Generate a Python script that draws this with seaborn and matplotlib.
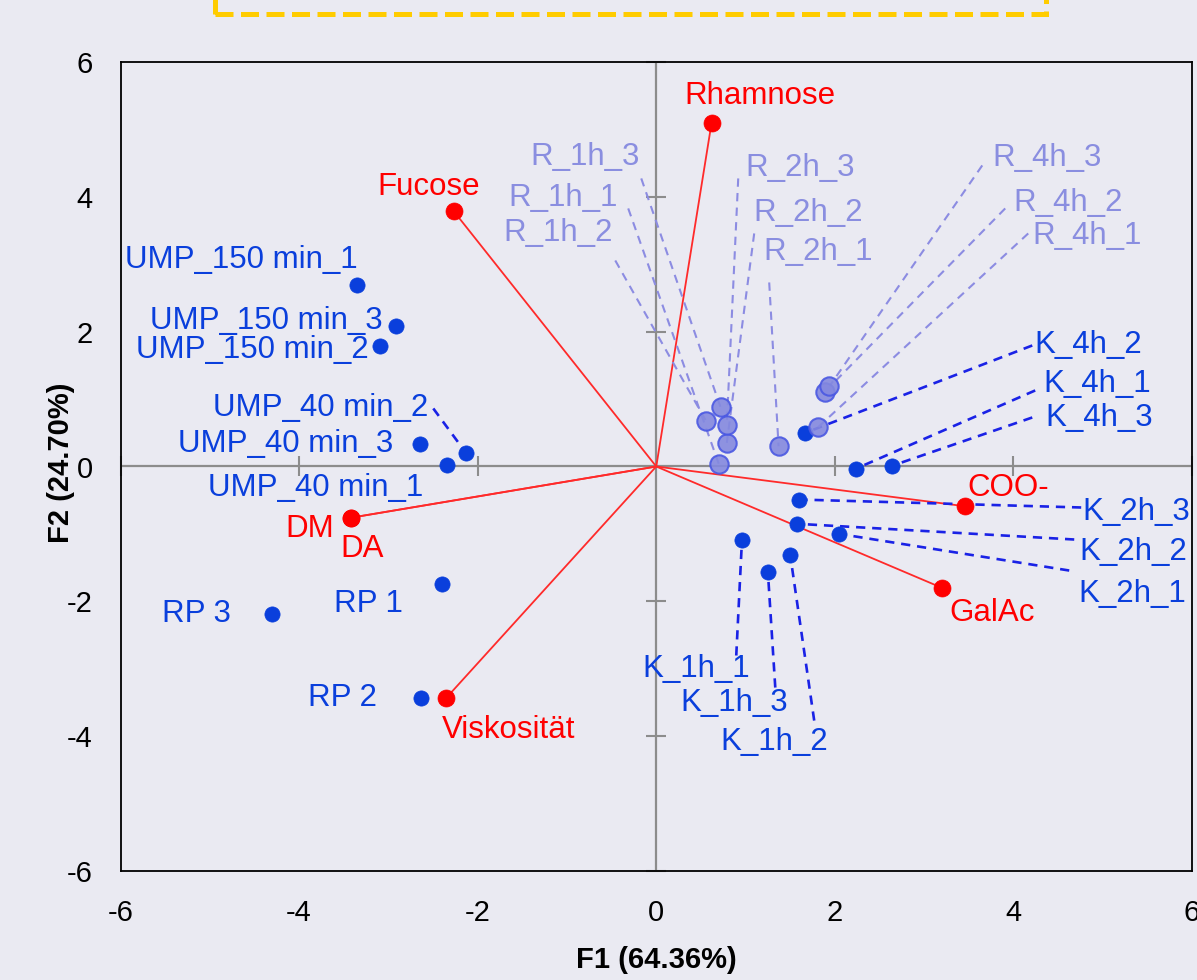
import matplotlib
matplotlib.use("Agg")
import matplotlib.pyplot as plt
import seaborn as sns
import pandas as pd
import numpy as np
from matplotlib.patches import Rectangle

# ---------------- data ----------------
obs_names = ["UMP_150 min_1", "UMP_150 min_2", "UMP_150 min_3",
             "UMP_40 min_1", "UMP_40 min_2", "UMP_40 min_3",
             "RP 1", "RP 2", "RP 3",
             "K_1h_1", "K_1h_2", "K_1h_3",
             "K_2h_1", "K_2h_2", "K_2h_3",
             "K_4h_1", "K_4h_2", "K_4h_3",
             "R_1h_1", "R_1h_2", "R_1h_3",
             "R_2h_1", "R_2h_2", "R_2h_3",
             "R_4h_1", "R_4h_2", "R_4h_3"]
obs_f1 = [-3.35, -3.09, -2.92,
          -2.34, -2.13, -2.65,
          -2.40, -2.64, -4.30,
          0.96, 1.50, 1.25,
          2.05, 1.58, 1.60,
          2.24, 1.67, 2.64,
          0.70, 0.56, 0.72,
          1.37, 0.79, 0.79,
          1.81, 1.89, 1.94]
obs_f2 = [2.69, 1.79, 2.08,
          0.02, 0.20, 0.34,
          -1.75, -3.43, -2.19,
          -1.09, -1.31, -1.56,
          -1.00, -0.85, -0.49,
          -0.03, 0.50, 0.01,
          0.04, 0.67, 0.88,
          0.30, 0.35, 0.62,
          0.58, 1.11, 1.19]

var_names = ["Rhamnose", "Fucose", "DM", "DA", "Viskosität", "COO-", "GalAc"]
var_f1 = [0.62, -2.27, -3.42, -3.42, -2.35, 3.46, 3.20]
var_f2 = [5.10, 3.79, -0.76, -0.76, -3.43, -0.59, -1.80]

x_label = "F1 (64.36%)"
y_label = "F2 (24.70%)"
ticks = [-6, -4, -2, 0, 2, 4, 6]

# ---------------- layout (label placement) ----------------
# name: (x, y, ha, leader_start or None)
obs_label_layout = {
    "UMP_150 min_1": (-3.348, 3.056, "right", None),
    "UMP_150 min_3": (-3.068, 2.151, "right", None),
    "UMP_150 min_2": (-3.225, 1.721, "right", None),
    "UMP_40 min_2": (-2.553, 0.875, "right", (-2.497, 0.861)),
    "UMP_40 min_3": (-2.945, 0.341, "right", None),
    "UMP_40 min_1": (-2.609, -0.312, "right", None),
    "RP 3": (-4.759, -2.181, "right", None),
    "RP 1": (-2.833, -2.033, "right", None),
    "RP 2": (-3.124, -3.427, "right", None),
    "R_1h_3": (-0.19, 4.585, "right", (-0.168, 4.273)),
    "R_1h_1": (-0.426, 3.976, "right", (-0.314, 3.828)),
    "R_1h_2": (-0.482, 3.457, "right", (-0.459, 3.056)),
    "R_2h_3": (0.997, 4.421, "left", (0.918, 4.273)),
    "R_2h_2": (1.086, 3.754, "left", (1.097, 3.457)),
    "R_2h_1": (1.198, 3.175, "left", (1.265, 2.730)),
    "R_4h_3": (3.763, 4.570, "left", (3.651, 4.466)),
    "R_4h_2": (3.998, 3.902, "left", (3.908, 3.828)),
    "R_4h_1": (4.211, 3.412, "left", (4.166, 3.457)),
    "K_4h_2": (4.233, 1.795, "left", (4.211, 1.795)),
    "K_4h_1": (4.334, 1.217, "left", (4.244, 1.128)),
    "K_4h_3": (4.356, 0.712, "left", (4.211, 0.727)),
    "K_2h_3": (4.770, -0.682, "left", (4.759, -0.608)),
    "K_2h_2": (4.737, -1.261, "left", (4.681, -1.083)),
    "K_2h_1": (4.726, -1.884, "left", (4.625, -1.543)),
    "K_1h_1": (-0.157, -2.997, "left", (0.896, -2.804)),
    "K_1h_3": (0.269, -3.501, "left", (1.333, -3.279)),
    "K_1h_2": (0.717, -4.080, "left", (1.769, -3.769)),
}
var_label_layout = {
    "Rhamnose": (1.159, 5.49, "center"),
    "Fucose": (-2.553, 4.14, "center"),
    "DM": (-3.606, -0.92, "right"),
    "DA": (-3.539, -1.217, "left"),
    "Viskosität": (-2.396, -3.902, "left"),
    "COO-": (3.483, -0.312, "left"),
    "GalAc": (3.281, -2.166, "left"),
}

BG = "#eaeaf2"
BLUE = "#0a3fdc"
BLUE_LINE = "#1a22e6"
R_FACE = "#8489df"
R_EDGE = "#4a58e2"
R_TEXT = "#8a8ee0"
RED = "#ff0000"
GRAY = "#8c8c8c"

sns.set_theme(style="dark", rc={"axes.facecolor": BG, "figure.facecolor": BG})
plt.rcParams["font.family"] = ["Liberation Sans", "DejaVu Sans"]
plt.rcParams["axes.unicode_minus"] = False

fig = plt.figure(figsize=(11.97, 9.8), dpi=100)
ax = fig.add_axes([120.5 / 1197, 1 - 871 / 980, (1192 - 120.5) / 1197, (871 - 62) / 980])

df_obs = pd.DataFrame({"name": obs_names, "F1": obs_f1, "F2": obs_f2})
df_obs["group"] = np.where(df_obs["name"].str.startswith("R_"), "R", "B")
df_var = pd.DataFrame({"name": var_names, "F1": var_f1, "F2": var_f2})

# zero axes with small cross ticks
ax.axhline(0, color=GRAY, lw=1.6, zorder=1)
ax.axvline(0, color=GRAY, lw=1.6, zorder=1)
nz = [t for t in ticks if t != 0]
ax.plot(nz, [0] * len(nz), ls="none", marker="|", ms=14, mew=1.5, color=GRAY, zorder=1, clip_on=False)
ax.plot([0] * len(nz), nz, ls="none", marker="_", ms=14, mew=1.5, color=GRAY, zorder=1, clip_on=False)

# variable vectors
for _, r in df_var.iterrows():
    ax.plot([0, r.F1], [0, r.F2], color="#ff2a2a", lw=1.3, zorder=2)

# leader lines
for _, r in df_obs.iterrows():
    lx, ly, ha, lead = obs_label_layout[r["name"]]
    if lead is None:
        continue
    if r.group == "R":
        ax.plot([lead[0], r.F1], [lead[1], r.F2], color="#8c8ce2", lw=1.5,
                ls=(0, (4, 3)), zorder=2)
    else:
        ax.plot([lead[0], r.F1], [lead[1], r.F2], color=BLUE_LINE, lw=1.9,
                ls=(0, (3.5, 2.6)), zorder=2)

# points
sns.scatterplot(data=df_obs[df_obs.group == "B"], x="F1", y="F2", color=BLUE,
                s=120, edgecolor=BLUE, linewidth=0.5, ax=ax, zorder=3)
sns.scatterplot(data=df_obs[df_obs.group == "R"], x="F1", y="F2", color=R_FACE,
                s=175, edgecolor=R_EDGE, linewidth=1.5, alpha=0.9, ax=ax, zorder=4)
sns.scatterplot(data=df_var, x="F1", y="F2", color=RED, s=150,
                edgecolor=RED, linewidth=0.5, ax=ax, zorder=5)

ax.set_xlim(-6, 6)
ax.set_ylim(-6, 6)
ax.set_xticks(ticks)
ax.set_yticks(ticks)
ax.tick_params(length=0, labelsize=21, pad=20, colors="black")
for s in ax.spines.values():
    s.set_color("black")
    s.set_linewidth(1.3)
ax.grid(False)
ax.set_xlabel(x_label, fontsize=21, fontweight="bold", color="black", labelpad=14)
ax.set_ylabel(y_label, fontsize=21, fontweight="bold", color="black")
ax.yaxis.set_label_coords(-0.0425, 0.505)

# labels
for _, r in df_obs.iterrows():
    lx, ly, ha, lead = obs_label_layout[r["name"]]
    col = R_TEXT if r.group == "R" else BLUE
    ax.text(lx, ly, r["name"], ha=ha, va="center", fontsize=22.5, color=col, zorder=6)
for _, r in df_var.iterrows():
    lx, ly, ha = var_label_layout[r["name"]]
    ax.text(lx, ly, r["name"], ha=ha, va="center", fontsize=22.5, color=RED, zorder=6)

# dashed yellow title frame (its content lies cut off above the image)
fig.patches.append(Rectangle((215 / 1197, 1 - 14 / 980), (1046 - 215) / 1197, 0.1,
                             transform=fig.transFigure, fill=False, edgecolor="#ffcc00",
                             lw=3.6, ls=(0, (3.6, 1.5)), clip_on=False))

fig.savefig("out.png", dpi=100, facecolor=BG)
